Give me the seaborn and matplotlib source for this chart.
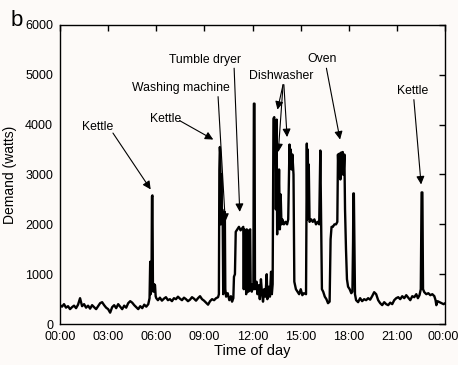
import matplotlib
matplotlib.use("Agg")
import matplotlib.pyplot as plt
import matplotlib.transforms as mtransforms
import seaborn as sns
import pandas as pd

# ---- data (hours of day, watts) ----
hours = [
    0.0, 0.125, 0.25, 0.375, 0.5, 0.625, 0.75, 0.875, 1.0, 1.125, 1.25, 1.375, 1.5, 1.625, 1.75, 1.875,
    2.0, 2.125, 2.25, 2.375, 2.5, 2.625, 2.75, 2.875, 3.0, 3.125, 3.25, 3.375, 3.5, 3.625, 3.75, 3.875,
    4.0, 4.125, 4.25, 4.375, 4.5, 4.625, 4.75, 4.875, 5.0, 5.125, 5.25, 5.375, 5.5,
    5.58, 5.62, 5.65, 5.7, 5.73, 5.76, 5.79, 5.83, 5.87, 5.92, 5.96, 6.0,
    6.1, 6.225, 6.35, 6.475, 6.6, 6.725, 6.85, 6.975, 7.1, 7.225, 7.35, 7.475, 7.6, 7.725, 7.85, 7.975,
    8.1, 8.225, 8.35, 8.475, 8.6, 8.725, 8.85, 8.975, 9.1, 9.225, 9.35, 9.475, 9.6, 9.725, 9.85,
    9.9, 9.93, 9.96, 9.99, 10.02, 10.05, 10.08, 10.11, 10.14, 10.17, 10.2, 10.24, 10.27, 10.3, 10.35,
    10.45, 10.55, 10.65, 10.72, 10.8, 10.84, 10.9, 10.95, 11.05, 11.15, 11.25, 11.35, 11.42, 11.45,
    11.48, 11.55, 11.6, 11.63, 11.7, 11.74, 11.77, 11.85, 11.88, 11.95, 12.0, 12.05, 12.08, 12.12,
    12.15, 12.25, 12.3, 12.38, 12.45, 12.52, 12.58, 12.65, 12.72, 12.8, 12.88, 12.92, 13.0, 13.08,
    13.15, 13.2, 13.25,
    13.3, 13.35, 13.38, 13.42, 13.45, 13.5, 13.53, 13.57, 13.6, 13.65, 13.7, 13.75, 13.8, 13.85,
    13.95, 14.05, 14.15, 14.22, 14.3, 14.34, 14.38, 14.43, 14.48, 14.55, 14.6, 14.7, 14.8, 14.9,
    15.0, 15.1, 15.2, 15.33,
    15.38, 15.41, 15.44, 15.47, 15.5, 15.55, 15.65, 15.75, 15.85, 15.95, 16.05, 16.15, 16.22, 16.26,
    16.32, 16.4, 16.5, 16.6, 16.7, 16.8, 16.86, 16.92, 17.0, 17.1, 17.2, 17.28,
    17.32, 17.37, 17.42, 17.47, 17.52, 17.57, 17.62, 17.67, 17.72, 17.76, 17.82, 17.88, 17.95,
    18.05, 18.15, 18.22, 18.26, 18.28, 18.31, 18.34, 18.38,
    18.45, 18.575, 18.7, 18.825, 18.95, 19.075, 19.2, 19.325, 19.45, 19.575, 19.7, 19.825, 19.95,
    20.075, 20.2, 20.325, 20.45, 20.575, 20.7, 20.825, 20.95, 21.075, 21.2, 21.325, 21.45, 21.575,
    21.7, 21.825, 21.95, 22.075, 22.2, 22.3, 22.4,
    22.48, 22.53, 22.58, 22.62, 22.7, 22.825, 22.95, 23.075, 23.2, 23.325, 23.4, 23.45, 23.525,
    23.65, 23.775, 23.9, 24.0,
]
watts = [
    380, 350, 400, 330, 360, 300, 340, 370, 320, 390, 520, 360, 400, 330, 370, 310,
    380, 340, 300, 360, 420, 440, 380, 330, 300, 230, 340, 380, 320, 400, 350, 300,
    370, 330, 420, 460, 430, 380, 340, 300, 360, 320, 390, 350, 400,
    520, 1250, 600, 700, 2560, 2580, 800, 650, 800, 780, 560, 520,
    480, 530, 470, 510, 540, 480, 500, 460, 520, 500, 550, 510, 480, 530, 500, 460,
    490, 540, 510, 470, 520, 560, 500, 470, 430, 390, 460, 500, 480, 520, 540,
    600, 3100, 3550, 3400, 2000, 3000, 2100, 2300, 2000, 600, 2200, 2000, 2250, 700, 550,
    620, 480, 560, 450, 520, 950, 1000, 1850, 1900, 1950, 1880, 1920, 1950, 700,
    1900, 1850, 600, 1900, 1880, 650, 1850, 1900, 700, 650, 800, 700, 4420, 4420,
    700, 850, 600, 780, 500, 900, 650, 450, 700, 550, 1000, 500, 750, 550,
    1050, 600, 800,
    4120, 4150, 3600, 4000, 2300, 4100, 1800, 2800, 2200, 3100, 1900, 2600, 2000, 2100,
    2000, 2050, 2000, 2100, 3600, 3200, 3500, 3100, 3400, 3000, 850, 700, 650, 600,
    700, 580, 620, 600,
    3620, 2100, 3500, 2300, 3200, 2050, 2100, 2050, 2100, 2000, 2050, 2000, 3480, 2300,
    700, 650, 550, 500, 420, 450, 1700, 1950, 1950, 2000, 2000, 2050,
    3400, 2950, 3420, 2900, 3440, 3000, 3450, 3000, 3400, 2300, 1500, 900, 750,
    700, 620, 650, 1650, 2620, 2620, 1700, 600,
    480, 440, 520, 460, 500, 480, 520, 490, 560, 640, 600, 480, 420,
    380, 440, 400, 380, 430, 400, 480, 520, 540, 500, 560, 520, 580,
    530, 480, 560, 540, 600, 520, 580,
    700, 2640, 2640, 700, 640, 600, 620, 580, 600, 560, 480, 380, 460,
    440, 420, 400, 420,
]

tick_hours = [0, 3, 6, 9, 12, 15, 18, 21, 24]
tick_labels = ["00:00", "03:00", "06:00", "09:00", "12:00", "15:00", "18:00", "21:00", "00:00"]
y_ticks = [0, 1000, 2000, 3000, 4000, 5000, 6000]

# annotations: (text, text_x, text_y, [(arrow_start_x, arrow_start_y, target_x, target_y), ...])
annotations = [
    ("Kettle", 2.37, 3960, [(3.3, 3830, 5.65, 2700)]),
    ("Kettle", 6.6, 4120, [(7.45, 4080, 9.55, 3700)]),
    ("Washing machine", 7.55, 4740, [(9.85, 4560, 10.3, 2050)]),
    ("Tumble dryer", 9.05, 5300, [(10.85, 5130, 11.2, 2250)]),
    ("Dishwasher", 13.8, 4980, [(13.9, 4800, 13.55, 4300), (13.95, 4800, 14.15, 3750), (13.9, 4800, 13.6, 3450)]),
    ("Oven", 16.3, 5320, [(16.6, 5130, 17.45, 3700)]),
    ("Kettle", 22.0, 4680, [(22.05, 4500, 22.5, 2800)]),
]

df = pd.DataFrame({"hour": hours, "watts": watts})

sns.set_theme(style="white")
bg = "#fdfaf8"
plt.rcParams["font.family"] = ["Liberation Sans Narrow", "Liberation Sans", "DejaVu Sans"]

fig = plt.figure(figsize=(4.58, 3.65), dpi=100, facecolor=bg)
ax = fig.add_axes([0.131, 0.112, 0.841, 0.82])
ax.set_facecolor(bg)

sns.lineplot(data=df, x="hour", y="watts", ax=ax, color="black", linewidth=1.7, sort=False)

ax.set_xlim(0, 24)
ax.set_ylim(0, 6000)
ax.set_xticks(tick_hours)
ax.set_xticklabels(tick_labels)
ax.set_yticks(y_ticks)
ax.set_yticklabels([str(v) for v in y_ticks])
ax.tick_params(direction="in", length=4, width=1, color="black", top=True, right=True,
               labelsize=9.0, labelcolor="black", pad=5)
for s in ax.spines.values():
    s.set_color("black")
    s.set_linewidth(1.0)

# nudge the final tick label slightly left so it stays inside the figure
last = ax.get_xticklabels()[-1]
last.set_transform(last.get_transform() + mtransforms.ScaledTranslation(-2 / 100, 0, fig.dpi_scale_trans))

ax.set_xlabel("Time of day", fontsize=10.5, color="black", labelpad=1)
ax.set_ylabel("Demand (watts)", fontsize=10, color="black", labelpad=6)

for text, tx, ty, arrows in annotations:
    ax.text(tx, ty, text, ha="center", va="center", fontsize=8.8, color="black")
    for sx, sy, ex, ey in arrows:
        ax.annotate("", xy=(ex, ey), xytext=(sx, sy),
                    arrowprops=dict(arrowstyle="-|>", color="black", lw=0.8,
                                    mutation_scale=12, shrinkA=0, shrinkB=0))

fig.text(0.022, 0.945, "b", fontsize=16, color="black", ha="left", va="center")

fig.savefig("out.png", dpi=100, facecolor=bg)
